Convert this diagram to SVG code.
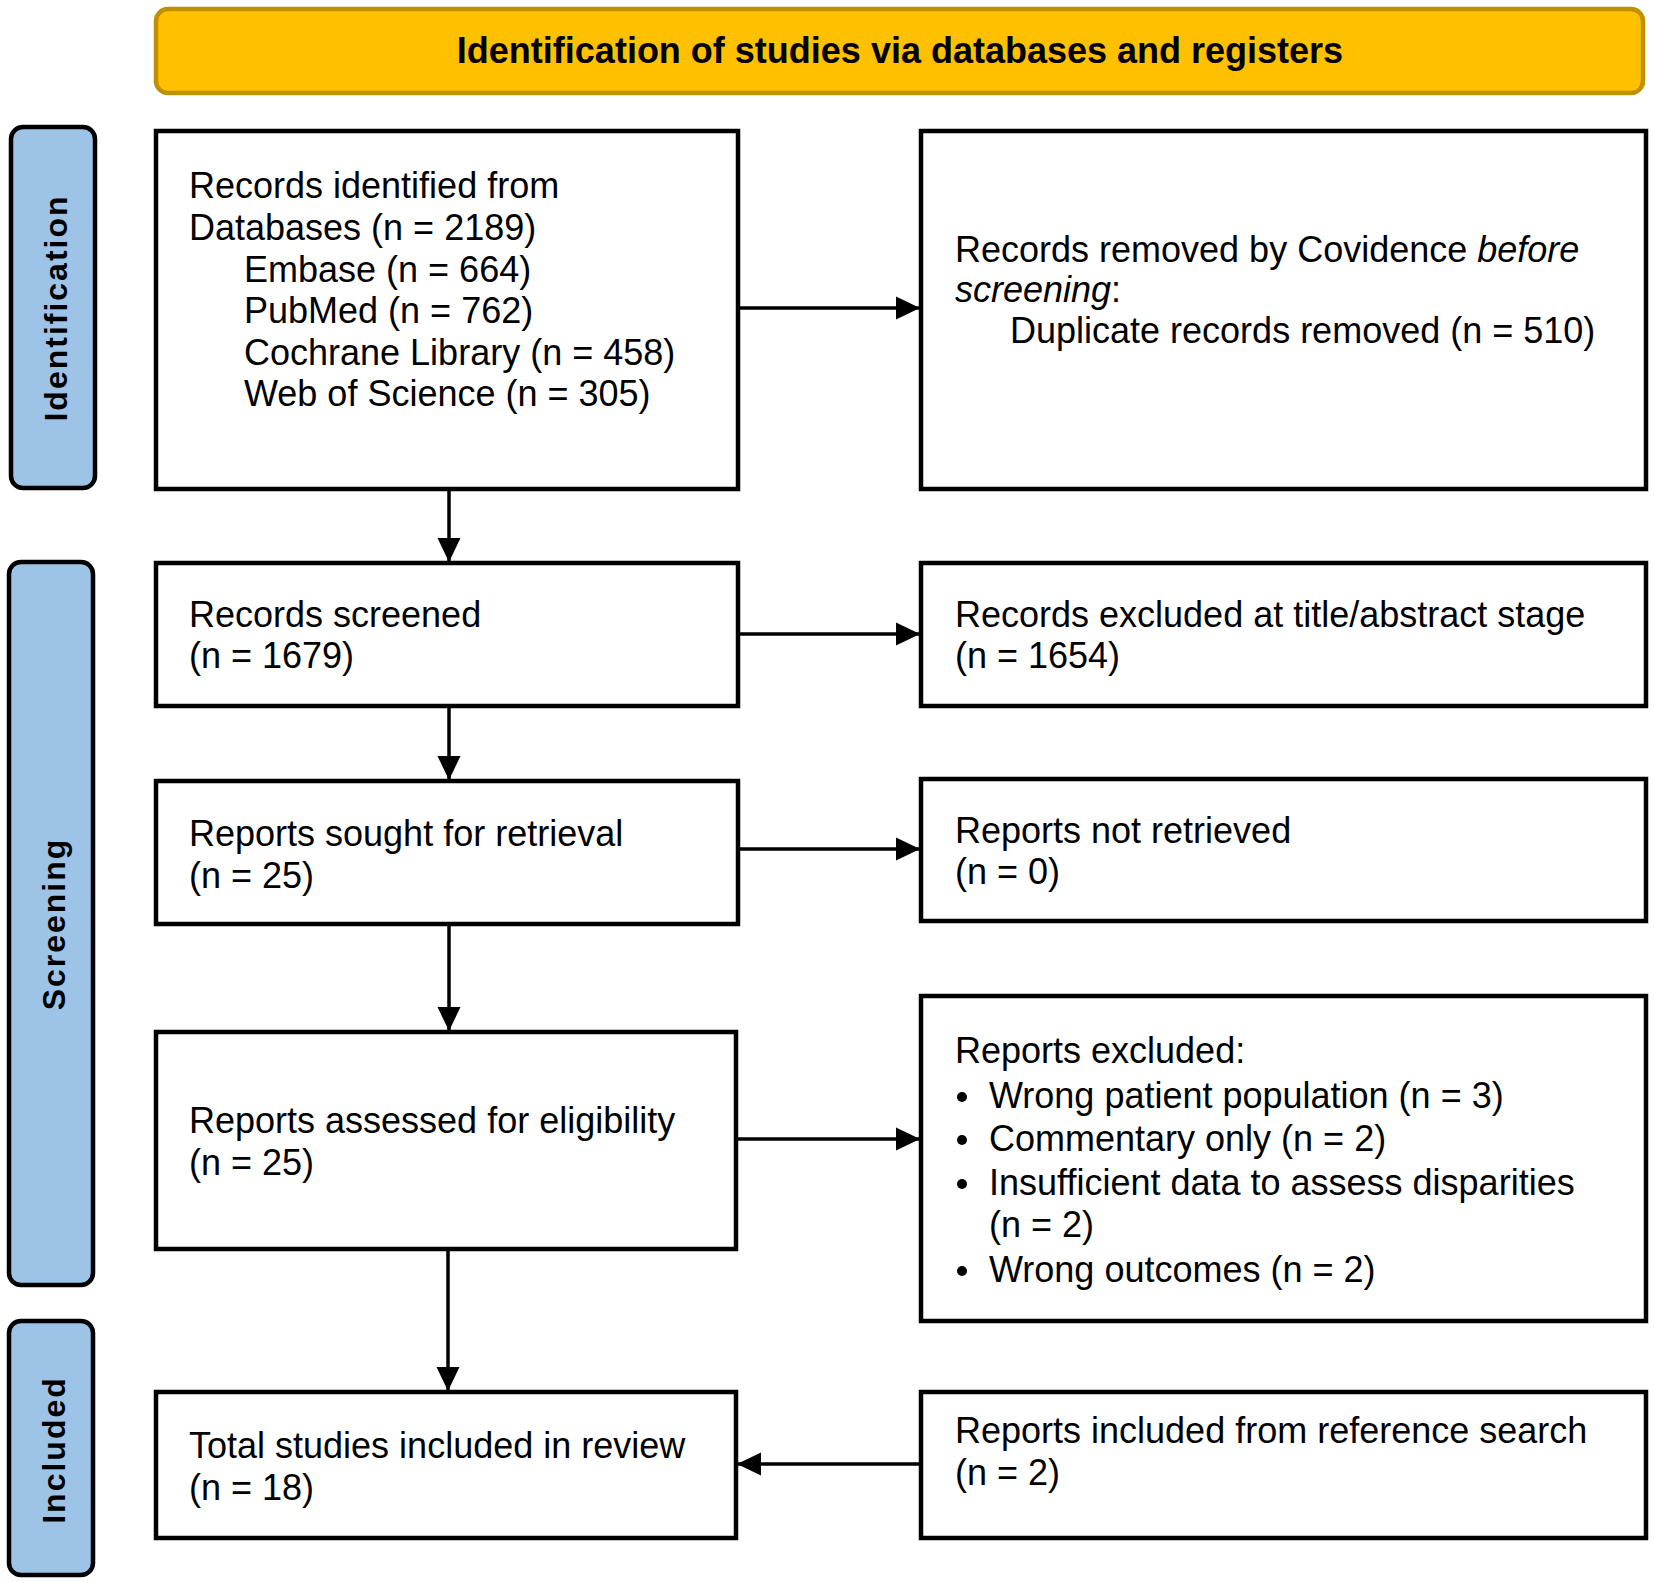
<svg xmlns="http://www.w3.org/2000/svg" width="1654" height="1583" viewBox="0 0 1654 1583">
<defs>
<style>
.box{fill:#ffffff;stroke:#000000;stroke-width:4.5}
.side{fill:#9DC3E6;stroke:#000000;stroke-width:4.5}
.hdr{fill:#FFC000;stroke:#BF9000;stroke-width:4.5}
.t{font-family:"Liberation Sans",Arial,sans-serif;font-size:36px;fill:#000000}
.hd{font-family:"Liberation Sans",Arial,sans-serif;font-size:36px;font-weight:bold;fill:#000000}
.sl{font-family:"Liberation Sans",Arial,sans-serif;font-size:32px;font-weight:bold;letter-spacing:2px;fill:#000000}
.c{fill:none;stroke:#000000;stroke-width:3.5}
</style>
<marker id="ah" markerUnits="userSpaceOnUse" viewBox="0 0 24 24" markerWidth="24" markerHeight="24" refX="23" refY="12" orient="auto">
<path d="M0,0.5 L24,12 L0,23.5 z" fill="#000000"/>
</marker>
</defs>
<rect width="1654" height="1583" fill="#ffffff"/>

<g id="header">
<rect class="hdr" x="156" y="9" width="1487" height="84" rx="12"/>
<text class="hd" x="900" y="63" text-anchor="middle">Identification of studies via databases and registers</text>
</g>

<g id="label-identification">
<rect class="side" x="11" y="127" width="84" height="361" rx="12"/>
<text class="sl" transform="translate(67,308) rotate(-90)" text-anchor="middle">Identification</text>
</g>
<g id="label-screening">
<rect class="side" x="9" y="562" width="84" height="723" rx="12"/>
<text class="sl" transform="translate(65,924) rotate(-90)" text-anchor="middle">Screening</text>
</g>
<g id="label-included">
<rect class="side" x="9" y="1321" width="84" height="254" rx="12"/>
<text class="sl" transform="translate(65,1450) rotate(-90)" text-anchor="middle">Included</text>
</g>

<g id="records-identified">
<rect class="box" x="156" y="131" width="582" height="358"/>
<text class="t" x="189" y="198">Records identified from</text>
<text class="t" x="189" y="240">Databases (n = 2189)</text>
<text class="t" x="244" y="282">Embase (n = 664)</text>
<text class="t" x="244" y="323">PubMed (n = 762)</text>
<text class="t" x="244" y="365">Cochrane Library (n = 458)</text>
<text class="t" x="244" y="406">Web of Science (n = 305)</text>
</g>

<g id="records-removed">
<rect class="box" x="921" y="131" width="725" height="358"/>
<text class="t" x="955" y="262">Records removed by Covidence <tspan font-style="italic">before</tspan></text>
<text class="t" x="955" y="302"><tspan font-style="italic">screening</tspan>:</text>
<text class="t" x="1010" y="343">Duplicate records removed (n = 510)</text>
</g>

<g id="records-screened">
<rect class="box" x="156" y="563" width="582" height="143"/>
<text class="t" x="189" y="627">Records screened</text>
<text class="t" x="189" y="668">(n = 1679)</text>
</g>

<g id="records-excluded">
<rect class="box" x="921" y="563" width="725" height="143"/>
<text class="t" x="955" y="627">Records excluded at title/abstract stage</text>
<text class="t" x="955" y="668">(n = 1654)</text>
</g>

<g id="reports-sought">
<rect class="box" x="156" y="781" width="582" height="143"/>
<text class="t" x="189" y="846">Reports sought for retrieval</text>
<text class="t" x="189" y="888">(n = 25)</text>
</g>

<g id="reports-not-retrieved">
<rect class="box" x="921" y="779" width="725" height="142"/>
<text class="t" x="955" y="843">Reports not retrieved</text>
<text class="t" x="955" y="884">(n = 0)</text>
</g>

<g id="reports-assessed">
<rect class="box" x="156" y="1032" width="580" height="217"/>
<text class="t" x="189" y="1133">Reports assessed for eligibility</text>
<text class="t" x="189" y="1175">(n = 25)</text>
</g>

<g id="reports-excluded">
<rect class="box" x="921" y="996" width="725" height="325"/>
<text class="t" x="955" y="1063">Reports excluded:</text>
<circle cx="962" cy="1097" r="5"/>
<text class="t" x="989" y="1108">Wrong patient population (n = 3)</text>
<circle cx="962" cy="1140" r="5"/>
<text class="t" x="989" y="1151">Commentary only (n = 2)</text>
<circle cx="962" cy="1184" r="5"/>
<text class="t" x="989" y="1195">Insufficient data to assess disparities</text>
<text class="t" x="989" y="1237">(n = 2)</text>
<circle cx="962" cy="1271" r="5"/>
<text class="t" x="989" y="1282">Wrong outcomes (n = 2)</text>
</g>

<g id="total-included">
<rect class="box" x="156" y="1392" width="580" height="146"/>
<text class="t" x="189" y="1458">Total studies included in review</text>
<text class="t" x="189" y="1500">(n = 18)</text>
</g>

<g id="reference-search">
<rect class="box" x="921" y="1392" width="725" height="146"/>
<text class="t" x="955" y="1443">Reports included from reference search</text>
<text class="t" x="955" y="1485">(n = 2)</text>
</g>

<g id="connectors">
<line class="c" x1="449" y1="491" x2="449" y2="561" marker-end="url(#ah)"/>
<line class="c" x1="449" y1="708" x2="449" y2="779" marker-end="url(#ah)"/>
<line class="c" x1="449" y1="926" x2="449" y2="1030" marker-end="url(#ah)"/>
<line class="c" x1="448" y1="1251" x2="448" y2="1390" marker-end="url(#ah)"/>
<line class="c" x1="740" y1="308" x2="919" y2="308" marker-end="url(#ah)"/>
<line class="c" x1="740" y1="634" x2="919" y2="634" marker-end="url(#ah)"/>
<line class="c" x1="740" y1="849" x2="919" y2="849" marker-end="url(#ah)"/>
<line class="c" x1="738" y1="1139" x2="919" y2="1139" marker-end="url(#ah)"/>
<line class="c" x1="919" y1="1464" x2="738" y2="1464" marker-end="url(#ah)"/>
</g>
</svg>
